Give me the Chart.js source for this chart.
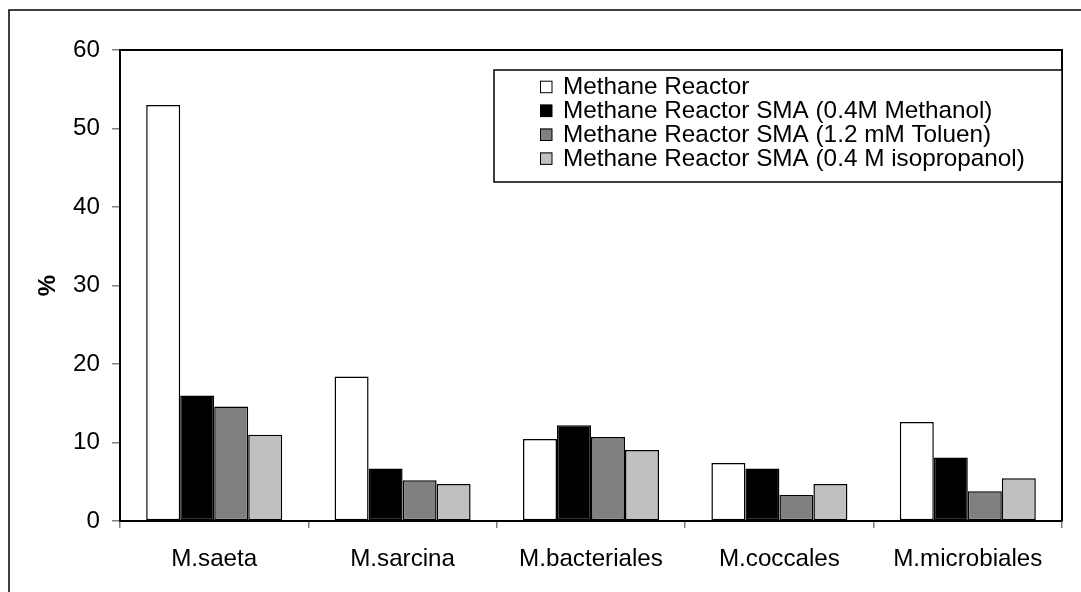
<!DOCTYPE html>
<html>
<head>
<meta charset="utf-8">
<script src="https://cdn.jsdelivr.net/npm/chart.js@4/dist/chart.umd.min.js"></script>
<style>
  html, body { margin: 0; padding: 0; background: #fff; }
  #wrap { width: 1081px; height: 592px; }
</style>
</head>
<body>
<div id="wrap"><canvas id="methChart" width="1081" height="592"></canvas></div>
<script>
/* ================= DATA ================= */
const categories = ["M.saeta", "M.sarcina", "M.bacteriales", "M.coccales", "M.microbiales"];
const seriesNames = [
    "Methane Reactor",
    "Methane Reactor SMA (0.4M Methanol)",
    "Methane Reactor SMA (1.2 mM Toluen)",
    "Methane Reactor SMA (0.4 M isopropanol)"
];
const methaneReactor = [53, 18.4, 10.45, 7.4, 12.6];
const smaMethanol = [16, 6.7, 12.2, 6.7, 8.1];
const smaToluen = [14.6, 5.2, 10.7, 3.3, 3.8];
const smaIsopropanol = [11, 4.7, 9.05, 4.7, 5.45];
const yTicks = [0, 10, 20, 30, 40, 50, 60];

const fills = ["#ffffff", "#000000", "#808080", "#c0c0c0"];
const FONT = "'Liberation Sans', Arial, sans-serif";

/* ================= FRAME + LEGEND PLUGIN ================= */
const framePlugin = {
    id: "frame",
    beforeDraw(chart) {
        const c = chart.ctx;
        c.save();
        c.strokeStyle = "#000";
        c.lineWidth = 1.5;
        c.beginPath();
        c.moveTo(9, 600);
        c.lineTo(9, 10);
        c.lineTo(1090, 10);
        c.stroke();
        c.restore();
    },
    afterDraw(chart) {
        const c = chart.ctx;
        const a = chart.chartArea;
        c.save();
        // plot border (top + right)
        c.strokeStyle = "#000";
        c.lineWidth = 2;
        c.beginPath();
        c.moveTo(a.left, a.top);
        c.lineTo(a.right, a.top);
        c.lineTo(a.right, a.bottom);
        c.stroke();

        // legend box
        const bx = 494, by = 70, bw = a.right - 494, bh = 112;
        c.fillStyle = "#fff";
        c.fillRect(bx, by, bw, bh);
        c.lineWidth = 1.5;
        c.strokeRect(bx, by, bw, bh);

        c.font = "24.3px " + FONT;
        c.textBaseline = "middle";
        c.textAlign = "left";
        chart.data.datasets.forEach((ds, i) => {
            const cy = 86.7 + i * 23.9;
            c.fillStyle = ds.backgroundColor;
            c.fillRect(540, cy - 6, 12, 12);
            c.lineWidth = 1;
            c.strokeStyle = "#000";
            c.strokeRect(540.5, cy - 5.5, 11.5, 11.5);
            c.fillStyle = "#000";
            c.fillText(ds.label, 563, cy + 1);
        });
        c.restore();
    }
};

/* ================= CHART ================= */
const series = [methaneReactor, smaMethanol, smaToluen, smaIsopropanol];

new Chart(document.getElementById("methChart"), {
    type: "bar",
    data: {
        labels: categories,
        datasets: series.map((vals, i) => ({
            label: seriesNames[i],
            data: vals,
            backgroundColor: fills[i],
            borderColor: "#000",
            borderWidth: 1.5,
            borderSkipped: false,
            categoryPercentage: 0.722,
            barPercentage: 1
        }))
    },
    options: {
        responsive: false,
        devicePixelRatio: 1,
        animation: false,
        layout: { padding: { left: 0, top: 50, right: 19, bottom: 0 } },
        plugins: {
            legend: { display: false },
            tooltip: { enabled: false }
        },
        scales: {
            x: {
                offset: true,
                grid: {
                    offset: true,
                    drawOnChartArea: false,
                    drawTicks: true,
                    tickLength: 7,
                    color: "#808080",
                    lineWidth: 1.5
                },
                border: { color: "#000", width: 2 },
                ticks: {
                    color: "#000",
                    font: { family: FONT, size: 24.2 },
                    padding: 17,
                    maxRotation: 0,
                    autoSkip: false
                },
                afterFit(scale) { scale.height = 71; }
            },
            y: {
                min: 0,
                max: 60,
                afterBuildTicks(scale) { scale.ticks = yTicks.map(v => ({ value: v })); },
                grid: {
                    drawOnChartArea: false,
                    drawTicks: true,
                    tickLength: 8,
                    color: "#808080",
                    lineWidth: 1.5
                },
                border: { color: "#000", width: 2 },
                ticks: {
                    color: "#000",
                    font: { family: FONT, size: 24.2 },
                    padding: 12
                },
                title: {
                    display: true,
                    text: "%",
                    color: "#000",
                    font: { family: FONT, size: 24, weight: "bold" },
                    padding: { top: 34, bottom: 0 }
                },
                afterFit(scale) { scale.width = 120; }
            }
        }
    },
    plugins: [framePlugin]
});
</script>
</body>
</html>
